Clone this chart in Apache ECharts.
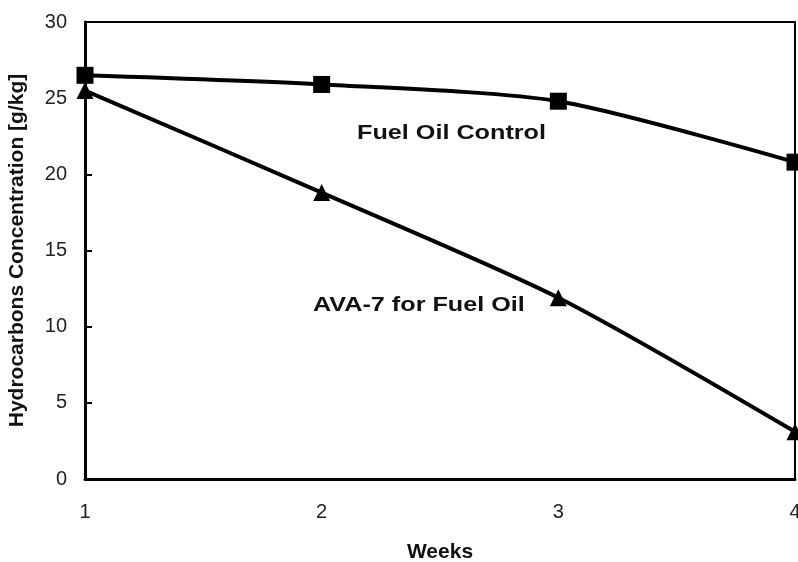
<!DOCTYPE html>
<html>
<head>
<meta charset="utf-8">
<script src="https://cdn.jsdelivr.net/npm/echarts@6/dist/echarts.min.js"></script>
<style>html,body{margin:0;padding:0;background:#fff}#c{width:798px;height:562px}</style>
</head>
<body>
<div id="c"></div>
<script>
var weeks = [1, 2, 3, 4];
var controlValues = [26.5, 25.9, 24.8, 20.8];
var avaValues = [25.5, 18.8, 11.9, 3.1];
var xTickLabels = ['1', '2', '3', '4'];
var controlLabel = 'Fuel Oil Control';
var avaLabel = 'AVA-7 for Fuel Oil';

function pairs(xs, ys) { return xs.map(function (x, i) { return [x, ys[i]]; }); }

var chart = echarts.init(document.getElementById('c'), null, { renderer: 'canvas' });
var FONT = '"Liberation Sans", Arial, sans-serif';
chart.setOption({
  animation: false,
  backgroundColor: '#fff',
  grid: { left: 85, right: 3, top: 22, bottom: 83, show: true, borderColor: '#000', borderWidth: 2,
    containLabel: false, outerBoundsMode: 'none' },
  xAxis: {
    type: 'value', min: 1, max: 4, interval: 1,
    name: 'Weeks', nameLocation: 'middle', nameGap: 63,
    nameTextStyle: { fontFamily: FONT, fontWeight: 'bold', fontSize: 21, color: '#111' },
    axisLine: { lineStyle: { color: '#000', width: 3 } },
    axisTick: { show: false },
    splitLine: { show: false },
    axisLabel: { fontFamily: FONT, fontSize: 20, color: '#222', margin: 23,
      formatter: function (v) { return xTickLabels[Math.round(v) - 1] || ''; } }
  },
  yAxis: {
    type: 'value', min: 0, max: 30, interval: 5,
    name: 'Hydrocarbons Concentration [g/kg]', nameLocation: 'middle', nameGap: 57,
    nameTextStyle: { fontFamily: FONT, fontWeight: 'bold', fontSize: 21, color: '#111' },
    axisLine: { show: true, lineStyle: { color: '#000', width: 3 } },
    axisTick: { show: true, inside: true, length: 7, lineStyle: { color: '#000', width: 2 } },
    splitLine: { show: false },
    axisLabel: { fontFamily: FONT, fontSize: 20, color: '#222', margin: 18 }
  },
  series: [
    {
      type: 'line', name: controlLabel, data: pairs(weeks, controlValues),
      smooth: 0.25, symbol: 'rect', symbolSize: 17,
      lineStyle: { color: '#000', width: 4 }, itemStyle: { color: '#000' },
      z: 3
    },
    {
      type: 'line', name: avaLabel, data: pairs(weeks, avaValues),
      smooth: 0.25, symbol: 'triangle', symbolSize: 17,
      lineStyle: { color: '#000', width: 4 }, itemStyle: { color: '#000' },
      z: 3
    }
  ],
  graphic: [
    { type: 'text', left: 357, top: 123, scaleX: 1.2,
      style: { text: controlLabel, font: 'bold 21px ' + FONT, fill: '#111' } },
    { type: 'text', left: 313, top: 295, scaleX: 1.2,
      style: { text: avaLabel, font: 'bold 21px ' + FONT, fill: '#111' } }
  ]
});
</script>
</body>
</html>
